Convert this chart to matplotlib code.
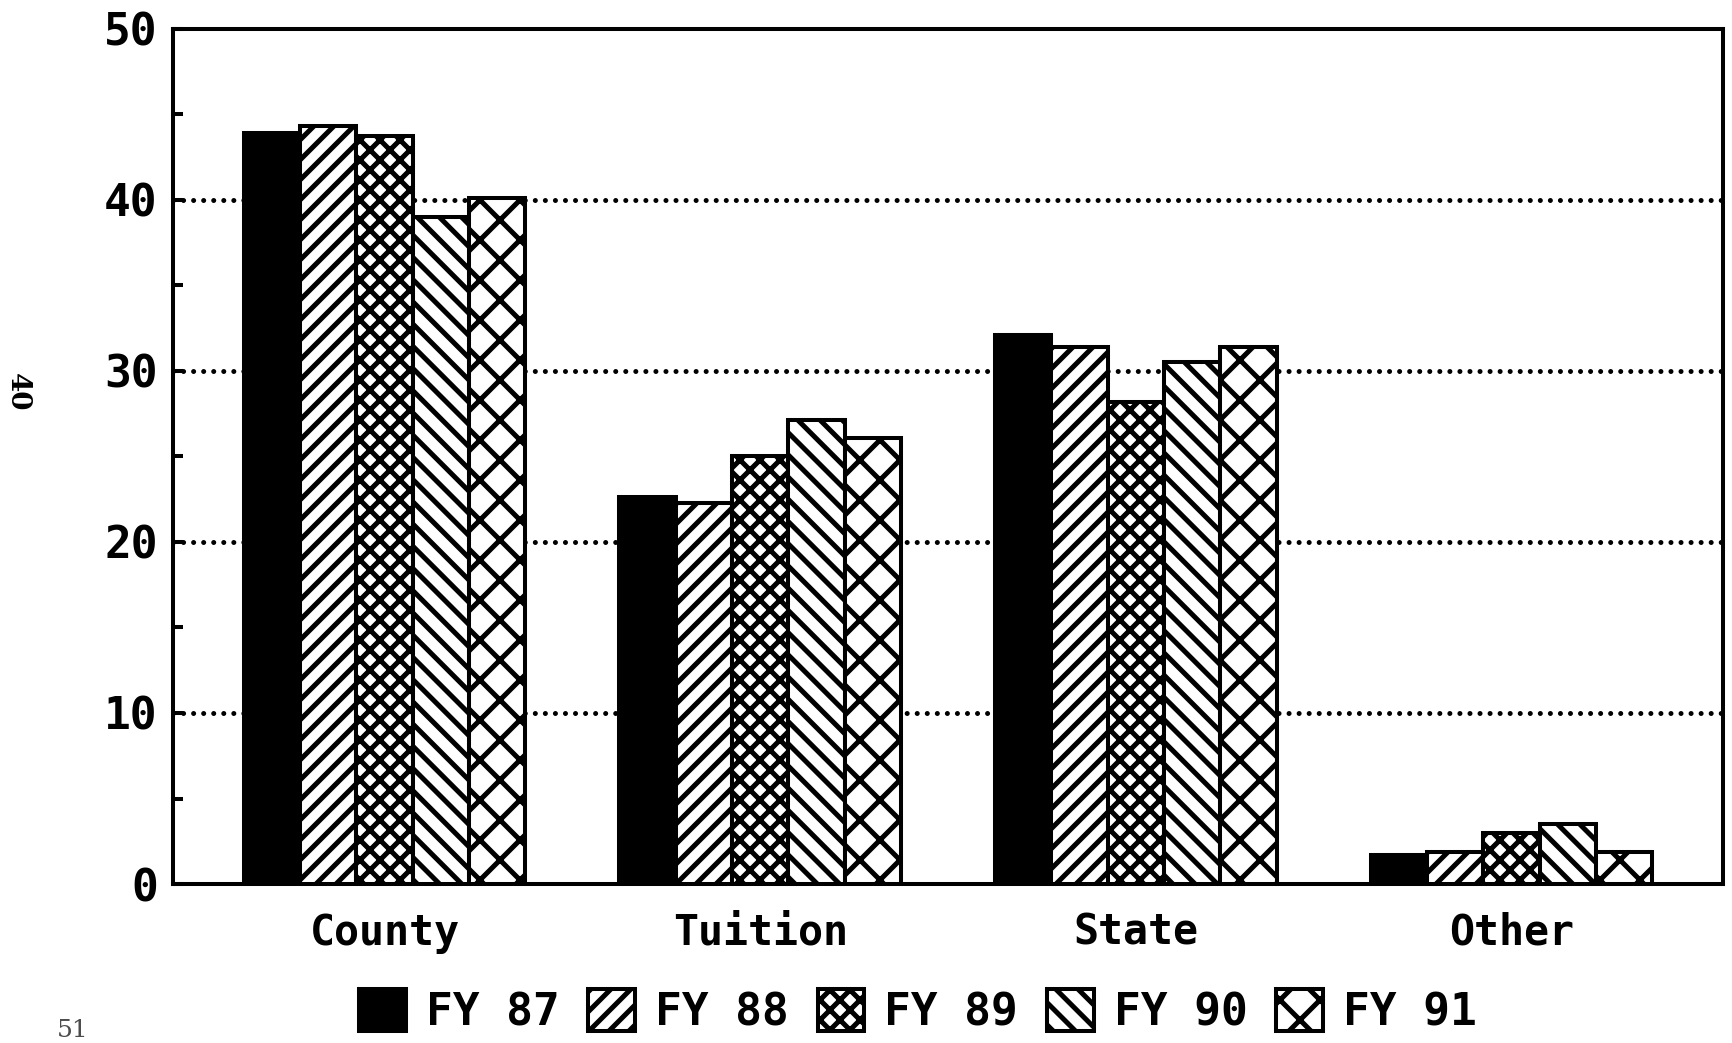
import numpy as np
import matplotlib
matplotlib.use("Agg")
import matplotlib.pyplot as plt
from matplotlib.backend_bases import GraphicsContextBase
from matplotlib.path import Path

# dati (percentuale delle entrate)
categories = ["County", "Tuition", "State", "Other"]
years = ["FY 87", "FY 88", "FY 89", "FY 90", "FY 91"]
fy87 = [43.9, 22.6, 32.1, 1.7]
fy88 = [44.3, 22.3, 31.4, 1.9]
fy89 = [43.7, 25.0, 28.2, 3.0]
fy90 = [39.0, 27.1, 30.5, 3.5]
fy91 = [40.1, 26.1, 31.4, 1.9]
series = [fy87, fy88, fy89, fy90, fy91]

# retini (piu' caratteri = linee piu' fitte, numero pari)
hatches = [None, "/" * 20, "x" * 20, "\\" * 18, "x" * 10]


# densita' del retino piu' bassa di quella di default (6 per carattere)
def _hatch_path(self, density=6.0):
    h = self.get_hatch()
    if h is None:
        return None
    return Path.hatch(h, 1.0)


GraphicsContextBase.get_hatch_path = _hatch_path

plt.rcParams["hatch.linewidth"] = 1.8
plt.rcParams["font.family"] = ["DejaVu Sans Mono", "DejaVu Sans"]
plt.rcParams["font.weight"] = "bold"

DPI = 200
fig = plt.figure(figsize=(1732 / DPI, 1043 / DPI), dpi=DPI)
ax = fig.add_axes([0.0999, 0.1524, 0.8949, 0.8201])

x = np.arange(len(categories))
width = 0.15
for i, (vals, h) in enumerate(zip(series, hatches)):
    pos = x + (i - 2) * width
    if h is None:
        ax.bar(pos, vals, width, color="black", edgecolor="black",
               linewidth=1.45, zorder=3, label=years[i])
    else:
        ax.bar(pos, vals, width, color="white", edgecolor="black",
               hatch=h, linewidth=1.45, zorder=3, label=years[i])

ax.set_xlim(-0.563, 3.563)
ax.set_ylim(0, 50)
ax.set_yticks([0, 10, 20, 30, 40, 50])
ax.set_yticks([5, 15, 25, 35, 45], minor=True)
ax.set_xticks(x)
ax.set_xticklabels(categories)

# griglia a puntini
for yv in [10, 20, 30, 40]:
    ax.axhline(yv, color="black", linewidth=1.8,
               linestyle=(0, (0.01, 2.0)), dash_capstyle="round", zorder=1)

for s in ax.spines.values():
    s.set_linewidth(1.45)

ax.tick_params(axis="y", which="both", direction="in", length=3.6, width=1.45,
               labelsize=16, pad=5.5)
ax.tick_params(axis="x", length=0, labelsize=15, pad=10)

fig.legend(loc="center", bbox_to_anchor=(0.53, 0.03), ncol=5, frameon=False,
           fontsize=16, handlelength=1.05, handleheight=1.05,
           handletextpad=0.45, columnspacing=0.65)

# numero di pagina a margine
fig.text(0.010, 0.624, "40", rotation=-90, fontsize=10, ha="center", va="center",
         family="DejaVu Serif")
fig.text(0.033, 0.006, "51", fontsize=9, family="DejaVu Serif", weight="normal",
         alpha=0.7)

fig.savefig("out.png", dpi=DPI)
